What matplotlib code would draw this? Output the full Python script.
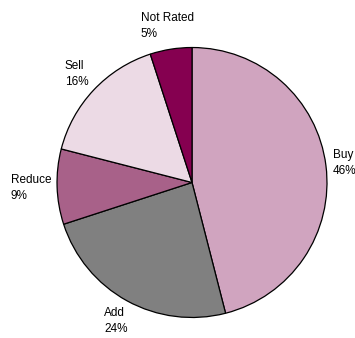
import numpy as np
import matplotlib
matplotlib.use("Agg")
import matplotlib.pyplot as plt

plt.rcParams['font.family'] = ['Liberation Sans', 'DejaVu Sans']

ratings = ['Buy', 'Add', 'Reduce', 'Sell', 'Not Rated']
shares = [46, 24, 9, 16, 5]
colors = ['#D0A4BF', '#808080', '#A86189', '#ECDAE5', '#850050']

fig = plt.figure(figsize=(3.55, 3.38), dpi=100)
ax = fig.add_axes([0, 0, 1, 1])

wedges, _ = ax.pie(shares, colors=colors, startangle=90, counterclock=False,
                   wedgeprops=dict(edgecolor='black', linewidth=0.9))
ax.set_aspect('equal')
ax.set_xlim(-1.422, 1.207)
ax.set_ylim(-1.152, 1.352)
ax.axis('off')

# labels sit just outside the rim, pushed out by their own half-size
fig.canvas.draw()
renderer = fig.canvas.get_renderer()
inv = ax.transData.inverted()
gap = 0.04
for w, name, val in zip(wedges, ratings, shares):
    ang = np.deg2rad((w.theta1 + w.theta2) / 2)
    t = ax.text(0, 0, f'{name}\n{val}%', ha='center', va='center',
                multialignment='left', fontsize=8.5, linespacing=1.45)
    bb = t.get_window_extent(renderer)
    p0 = inv.transform((bb.x0, bb.y0))
    p1 = inv.transform((bb.x1, bb.y1))
    hw, hh = (p1[0] - p0[0]) / 2, (p1[1] - p0[1]) / 2
    c, s = np.cos(ang), np.sin(ang)
    r = 1.0 + gap + abs(c) * hw + abs(s) * hh
    t.set_position((r * c, r * s))

fig.savefig('out.png', dpi=100)
